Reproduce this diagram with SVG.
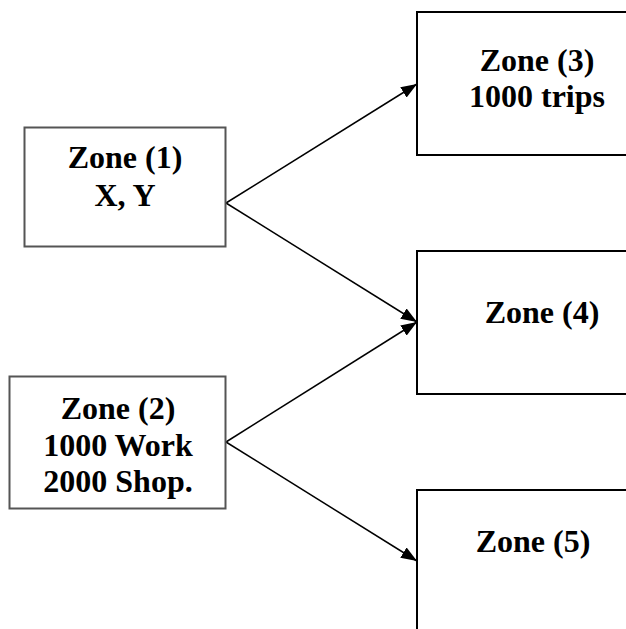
<svg xmlns="http://www.w3.org/2000/svg" width="626" height="629" viewBox="0 0 626 629">
<defs>
<style>
.src{fill:#fff;stroke:#555;stroke-width:2}
.dst{fill:#fff;stroke:#000;stroke-width:2}
.t{font-family:"Liberation Serif","Times New Roman",serif;font-weight:bold;font-size:32px;fill:#000;text-anchor:middle}
.c{stroke:#000;stroke-width:1.5;fill:none;marker-end:url(#ah)}
</style>
<marker id="ah" viewBox="0 0 16 12" refX="16" refY="6" markerWidth="16" markerHeight="12" markerUnits="userSpaceOnUse" orient="auto">
<path d="M0,0 L16,6 L0,12 Z" fill="#000"/>
</marker>
</defs>
<rect width="626" height="629" fill="#fff"/>
<g id="connectors">
<line class="c" x1="226" y1="203" x2="417" y2="84"/>
<line class="c" x1="226" y1="203" x2="417" y2="322"/>
<line class="c" x1="226" y1="442" x2="417" y2="322"/>
<line class="c" x1="226" y1="442" x2="417" y2="561"/>
</g>
<g id="zone1">
<rect class="src" x="24.5" y="127.5" width="201" height="119"/>
<text class="t" x="125" y="168">Zone (1)</text>
<text class="t" x="125" y="206">X, Y</text>
</g>
<g id="zone2">
<rect class="src" x="9.5" y="376.5" width="216" height="132"/>
<text class="t" x="118" y="419">Zone (2)</text>
<text class="t" x="118" y="456">1000 Work</text>
<text class="t" x="118" y="492">2000 Shop.</text>
</g>
<g id="zone3">
<rect class="dst" x="417" y="12" width="220" height="143"/>
<text class="t" x="537" y="71">Zone (3)</text>
<text class="t" x="537" y="107">1000 trips</text>
</g>
<g id="zone4">
<rect class="dst" x="417" y="251" width="220" height="143"/>
<text class="t" x="542" y="323">Zone (4)</text>
</g>
<g id="zone5">
<rect class="dst" x="417" y="490" width="220" height="160"/>
<text class="t" x="533" y="552">Zone (5)</text>
</g>
</svg>
